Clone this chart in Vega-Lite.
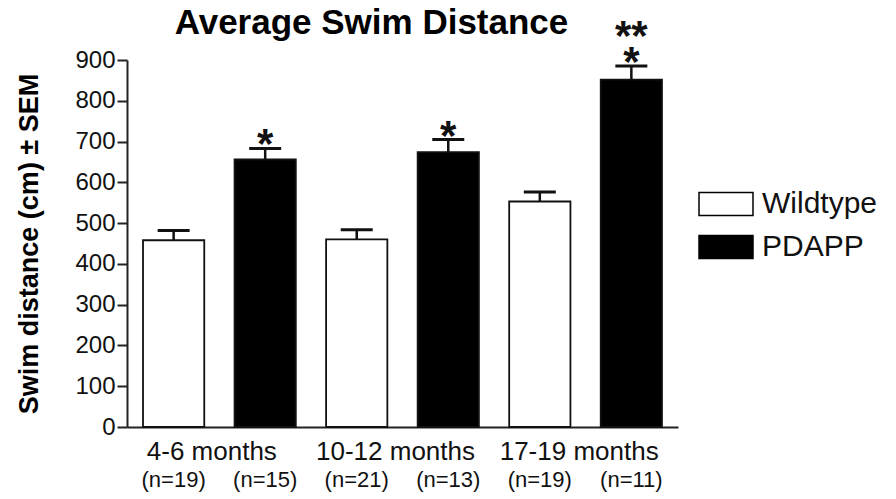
{
  "$schema": "https://vega.github.io/schema/vega-lite/v6.json",
  "width": 551,
  "height": 367,
  "autosize": {"type": "none"},
  "padding": {"left": 127, "top": 60, "right": 218, "bottom": 72},
  "background": "white",
  "title": {
    "text": "Average Swim Distance",
    "font": "Liberation Sans",
    "fontSize": 35,
    "fontWeight": "bold",
    "color": "black",
    "anchor": "middle",
    "dx": -31,
    "dy": 36,
    "baseline": "alphabetic",
    "offset": -17
  },
  "data": {
    "values": [
      {"bar": "4-6 months Wildtype (n=19)", "age": "4-6 months", "genotype": "Wildtype", "mean": 458, "upper": 482, "star": "", "star2": ""},
      {"bar": "4-6 months PDAPP (n=15)", "age": "4-6 months", "genotype": "PDAPP", "mean": 656, "upper": 683, "star": "*", "star2": ""},
      {"bar": "10-12 months Wildtype (n=21)", "age": "10-12 months", "genotype": "Wildtype", "mean": 460, "upper": 484, "star": "", "star2": ""},
      {"bar": "10-12 months PDAPP (n=13)", "age": "10-12 months", "genotype": "PDAPP", "mean": 674, "upper": 705, "star": "*", "star2": ""},
      {"bar": "17-19 months Wildtype (n=19)", "age": "17-19 months", "genotype": "Wildtype", "mean": 553, "upper": 576, "star": "", "star2": ""},
      {"bar": "17-19 months PDAPP (n=11)", "age": "17-19 months", "genotype": "PDAPP", "mean": 852, "upper": 885, "star": "*", "star2": "**"}
    ]
  },
  "layer": [
    {
      "encoding": {
        "x": {
          "field": "bar",
          "type": "nominal",
          "sort": null,
          "scale": {"paddingInner": 0.331, "paddingOuter": 0.175},
          "axis": {
            "orient": "bottom",
            "title": null,
            "labelExpr": "slice(datum.label, indexof(datum.label, '('))",
            "labelFont": "Liberation Sans",
            "labelFontSize": 22,
            "labelColor": "#111",
            "labelPadding": 42,
            "labelAngle": 0,
            "ticks": false,
            "domain": true,
            "domainColor": "#222",
            "domainWidth": 2
          }
        }
      },
      "layer": [
        {
          "mark": {"type": "bar", "stroke": "#111", "strokeWidth": 1.8},
          "encoding": {
            "y": {
              "field": "mean",
              "type": "quantitative",
              "scale": {"domain": [0, 900], "nice": false},
              "axis": {
                "values": [0, 100, 200, 300, 400, 500, 600, 700, 800, 900],
                "title": "Swim distance (cm) ± SEM",
                "titleFont": "Liberation Sans",
                "titleFontSize": 27,
                "titleFontWeight": "bold",
                "titleColor": "black",
                "titlePadding": 31,
                "labelFont": "Liberation Sans",
                "labelFontSize": 24,
                "labelColor": "#111",
                "labelPadding": 2,
                "tickSize": 10,
                "tickWidth": 2,
                "tickColor": "#222",
                "domainColor": "#222",
                "domainWidth": 2,
                "grid": false
              }
            },
            "fill": {
              "field": "genotype",
              "type": "nominal",
              "scale": {"domain": ["Wildtype", "PDAPP"], "range": ["white", "black"]},
              "legend": {
                "orient": "none",
                "legendX": 571,
                "legendY": 116,
                "title": null,
                "padding": 0,
                "symbolType": "M-1,-0.426H1V0.426H-1Z",
                "symbolSize": 2916,
                "symbolStrokeColor": "black",
                "symbolStrokeWidth": 1.5,
                "labelFont": "Liberation Sans",
                "labelFontSize": 30,
                "labelColor": "#111",
                "labelOffset": 8,
                "rowPadding": -9
              }
            }
          }
        },
        {
          "mark": {"type": "rule", "color": "#111", "strokeWidth": 2.5},
          "encoding": {
            "y": {"field": "mean", "type": "quantitative", "title": "Swim distance (cm) ± SEM"},
            "y2": {"field": "upper"}
          }
        },
        {
          "mark": {"type": "tick", "color": "#111", "opacity": 1, "size": 32, "thickness": 3},
          "encoding": {
            "y": {"field": "upper", "type": "quantitative", "title": "Swim distance (cm) ± SEM"}
          }
        },
        {
          "mark": {
            "type": "text",
            "font": "Liberation Sans",
            "fontSize": 42,
            "fontWeight": "bold",
            "color": "#111",
            "align": "center",
            "baseline": "bottom",
            "dy": 19
          },
          "encoding": {
            "y": {"field": "upper", "type": "quantitative", "title": "Swim distance (cm) ± SEM"},
            "text": {"field": "star", "type": "nominal"}
          }
        },
        {
          "mark": {
            "type": "text",
            "font": "Liberation Sans",
            "fontSize": 42,
            "fontWeight": "bold",
            "color": "#111",
            "align": "center",
            "baseline": "bottom",
            "dy": -7
          },
          "encoding": {
            "y": {"field": "upper", "type": "quantitative", "title": "Swim distance (cm) ± SEM"},
            "text": {"field": "star2", "type": "nominal"}
          }
        }
      ]
    },
    {
      "mark": {"type": "tick", "opacity": 0},
      "encoding": {
        "x": {
          "field": "age",
          "type": "nominal",
          "sort": null,
          "scale": {"paddingInner": 0, "paddingOuter": 0},
          "axis": {
            "orient": "bottom",
            "title": null,
            "labelFont": "Liberation Sans",
            "labelFontSize": 26,
            "labelColor": "#111",
            "labelPadding": 11,
            "labelOffset": -7,
            "labelAngle": 0,
            "ticks": false,
            "domain": false
          }
        },
        "y": {"field": "mean", "type": "quantitative", "title": "Swim distance (cm) ± SEM"}
      }
    }
  ],
  "resolve": {"scale": {"x": "independent"}, "axis": {"x": "independent"}},
  "config": {"view": {"stroke": null}}
}
